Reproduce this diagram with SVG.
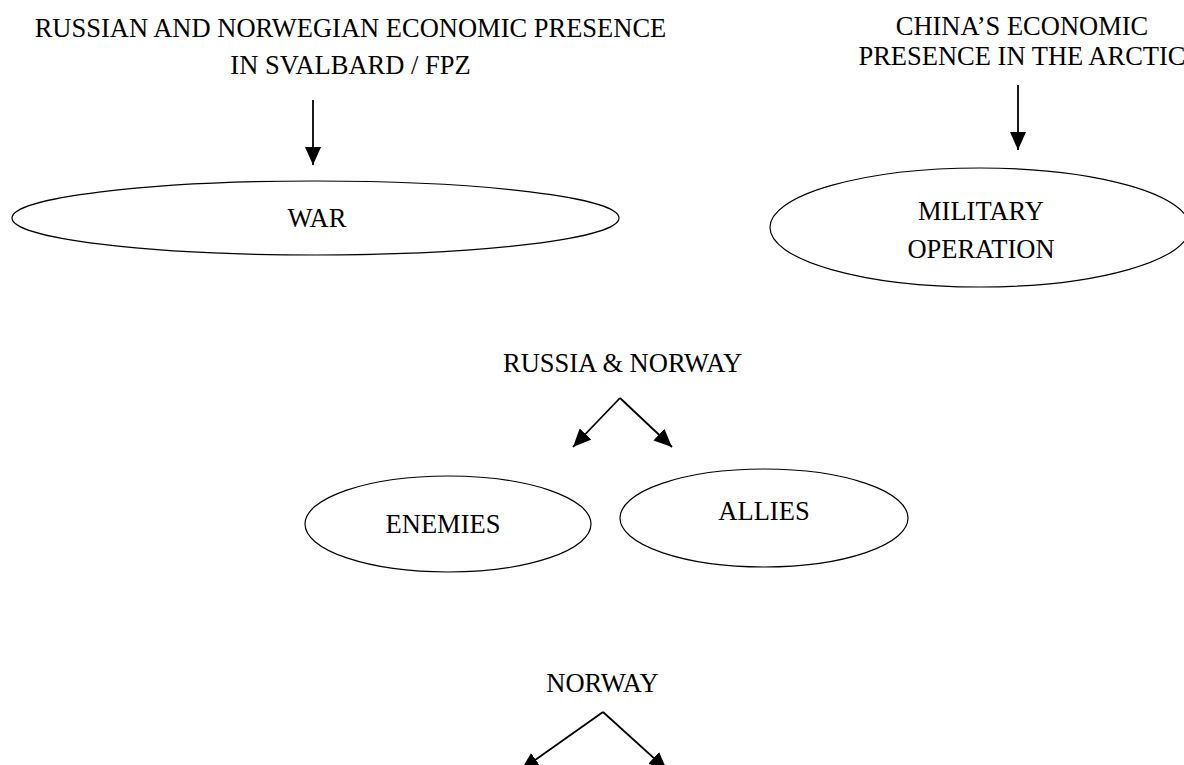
<svg xmlns="http://www.w3.org/2000/svg" width="1184" height="765" viewBox="0 0 1184 765">
<style>
text{font-family:"Liberation Serif","Times New Roman",serif;font-size:26.5px;fill:#000;text-anchor:middle}
.node ellipse{fill:none;stroke:#000;stroke-width:1.2}
.conn line{stroke:#000;stroke-width:1.8;marker-end:url(#ah)}
</style>
<defs>
<marker id="ah" markerUnits="userSpaceOnUse" markerWidth="20" markerHeight="16" viewBox="0 0 20 16" refX="18" refY="8" orient="auto">
<polygon points="0,0 18,8 0,16" fill="#000"/>
</marker>
</defs>
<rect width="1184" height="765" fill="#fff"/>
<g id="russian-norwegian-presence" class="node">
<text x="350.5" y="37">RUSSIAN AND NORWEGIAN ECONOMIC PRESENCE</text>
<text x="350.5" y="74">IN SVALBARD / FPZ</text>
</g>
<g id="war" class="node">
<ellipse cx="315.5" cy="218" rx="303.5" ry="37"/>
<text x="317" y="227">WAR</text>
</g>
<g id="china-presence" class="node">
<text x="1022" y="35">CHINA’S ECONOMIC</text>
<text x="1022" y="65">PRESENCE IN THE ARCTIC</text>
</g>
<g id="military-operation" class="node">
<ellipse cx="980" cy="227.5" rx="210" ry="59.5"/>
<text x="981" y="220">MILITARY</text>
<text x="981" y="258">OPERATION</text>
</g>
<g id="russia-norway" class="node">
<text x="622.5" y="372">RUSSIA &amp; NORWAY</text>
</g>
<g id="enemies" class="node">
<ellipse cx="448" cy="524" rx="143" ry="48"/>
<text x="443" y="533">ENEMIES</text>
</g>
<g id="allies" class="node">
<ellipse cx="764" cy="518" rx="144" ry="49"/>
<text x="764" y="520">ALLIES</text>
</g>
<g id="norway" class="node">
<text x="602.5" y="692">NORWAY</text>
</g>
<g id="connectors" class="conn">
<line x1="313" y1="100" x2="313" y2="165"/>
<line x1="1018" y1="85" x2="1018" y2="150"/>
<line x1="620" y1="398" x2="573" y2="447"/>
<line x1="620" y1="398" x2="672" y2="447"/>
<line x1="603" y1="712" x2="521" y2="770"/>
<line x1="603" y1="712" x2="667" y2="770"/>
</g>
</svg>
